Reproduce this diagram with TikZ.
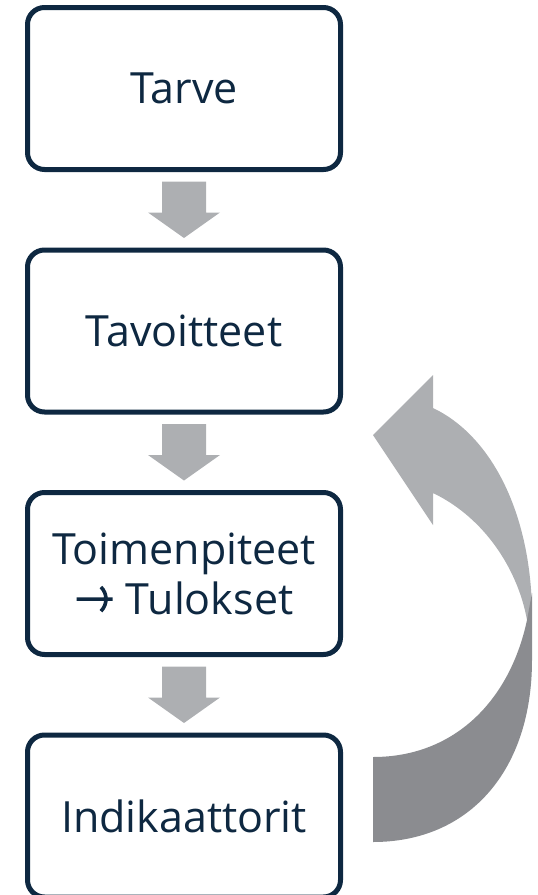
\documentclass[tikz,border=0pt]{standalone}
\usepackage{fontspec}
\setmainfont{Open Sans}
\usetikzlibrary{calc}
\definecolor{navy}{HTML}{0E2841}
\definecolor{lgray}{HTML}{ADAFB2}
\definecolor{dgray}{HTML}{8B8C90}
\tikzset{
  box/.style={draw=navy, line width=5pt, rounded corners=17pt, fill=white,
    minimum width=313pt, minimum height=162pt, text=navy, align=center,
    font=\fontsize{43}{50}\selectfont},
  blockarrow/.style={fill=lgray, draw=none}
}
\newcommand{\downarrowbetween}[2]{%
  \fill[blockarrow] ($(#1.south)+(-22,9.5)$) -- ($(#1.south)+(22,9.5)$) -- ($(#1.south)+(22,40.5)$)
    -- ($(#1.south)+(36,40.5)$) -- ($(#2.north)+(0,-9.5)$) -- ($(#1.south)+(-36,40.5)$)
    -- ($(#1.south)+(-22,40.5)$) -- cycle;}
\newcommand{\rarrowglyph}{\tikz[baseline=0pt, x=1pt, y=1pt]{\draw[navy, line width=3.6pt, line cap=butt, line join=miter] (0,15)--(36,15) (25,26.5)--(36.5,15)--(25,3.5);}}
\begin{document}
\begin{tikzpicture}[x=1pt,y=-1pt]
\useasboundingbox (0,0) rectangle (538,895);
\node[box] (b1) at (184,88.5) {Tarve};
\node[box] (b2) at (184,331) {Tavoitteet};
\node[box] (b3) at (184,573.5) {Toimenpiteet\\\rarrowglyph\ Tulokset};
\node[box] (b4) at (184,816) {Indikaattorit};
\downarrowbetween{b1}{b2}
\downarrowbetween{b2}{b3}
\downarrowbetween{b3}{b4}
% curved return arrow
\fill[lgray] (433,408) .. controls (490,435) and (530,510) .. (532,610)
  -- (527,620) .. controls (518,570) and (485,518) .. (433,493)
  -- (433,525) -- (373,435) -- (433,375) -- cycle;
\fill[dgray] (373,842) .. controls (470,842) and (532,770) .. (532,660)
  -- (532,593) -- (527,620) .. controls (510,700) and (455,757) .. (373,757) -- cycle;
\end{tikzpicture}
\end{document}
